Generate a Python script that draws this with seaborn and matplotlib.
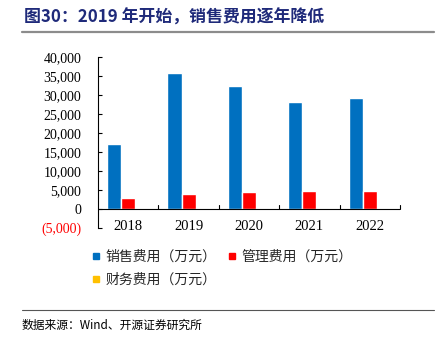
import matplotlib
matplotlib.use("Agg")
import matplotlib.pyplot as plt
import seaborn as sns
import pandas as pd
import numpy as np
from matplotlib.lines import Line2D
from matplotlib.ticker import FixedLocator, FuncFormatter

years = ["2018", "2019", "2020", "2021", "2022"]
series = ["销售费用（万元）", "管理费用（万元）", "财务费用（万元）"]
selling = [17000, 35700, 32400, 28150, 29200]
admin = [2900, 3950, 4500, 4650, 4750]
finance = [0, 0, 0, 0, 0]
colors = ["#0070C0", "#FF0000", "#FFC000"]
yticks = [-5000, 0, 5000, 10000, 15000, 20000, 25000, 30000, 35000, 40000]

df = pd.DataFrame({
    "year": years * 3,
    "series": [series[0]] * 5 + [series[1]] * 5 + [series[2]] * 5,
    "value": selling + admin + finance,
})

sns.set_theme(style="white")
cjk = ["Noto Sans CJK SC", "DejaVu Sans"]
serif = ["Liberation Serif", "DejaVu Serif"]
plt.rcParams["font.family"] = cjk

fig = plt.figure(figsize=(4.4, 3.43), dpi=100)
ax = fig.add_axes([98 / 440, 1 - 228 / 343, 302 / 440, 171 / 343])

sns.barplot(data=df, x="year", y="value", hue="series", palette=colors,
            width=0.7, gap=0, dodge=True, ax=ax, legend=False, saturation=1)

ax.set_ylim(-5000, 40000)
ax.set_xlim(-0.5, 4.5)
ax.set_xlabel("")
ax.set_ylabel("")

for s in ["top", "right", "bottom"]:
    ax.spines[s].set_visible(False)
ax.spines["left"].set_color("black")
ax.spines["left"].set_linewidth(0.8)

ax.set_yticks(yticks)
ax.yaxis.set_major_formatter(FuncFormatter(
    lambda v, p: f"({abs(int(v)):,})" if v < 0 else f"{int(v):,}"))
ax.tick_params(axis="y", direction="in", length=3, width=0.8, color="black",
               labelsize=10, pad=12, left=True)
for lbl in ax.get_yticklabels():
    lbl.set_fontfamily(serif)
    if lbl.get_text().startswith("("):
        lbl.set_color("red")
    else:
        lbl.set_color("black")

# x axis at zero
ax.axhline(0, color="black", lw=0.8, zorder=5)
ax.tick_params(axis="x", which="major", length=0, labelsize=10.5, pad=-6,
               labelcolor="black")
for lbl in ax.get_xticklabels():
    lbl.set_fontfamily(serif)
for xb in [0.5, 1.5, 2.5, 3.5, 4.5]:
    ax.plot([xb, xb], [0, 1100], color="black", lw=0.8, zorder=5, clip_on=False)
ax.grid(False)

handles = [Line2D([], [], marker="s", linestyle="none", markersize=5,
                  markerfacecolor=c, markeredgecolor=c) for c in colors]
order = [0, 2, 1]
fig.legend([handles[i] for i in order], [series[i] for i in order],
           loc="upper left", bbox_to_anchor=(92 / 440, 1 - 250 / 343),
           ncol=2, frameon=False, fontsize=10, handlelength=0.6, handletextpad=0.4,
           columnspacing=0.8, labelspacing=0.65, borderaxespad=0, borderpad=0)

fig.text(24 / 440, 1 - 18 / 343, "图30：2019 年开始，销售费用逐年降低", fontsize=12.2,
         fontweight="bold", color="#1F2A7A", va="center", ha="left")
fig.add_artist(Line2D([22 / 440, 434 / 440], [1 - 32 / 343, 1 - 32 / 343],
                      color="#8C8C8C", lw=1.6))
fig.add_artist(Line2D([22 / 440, 434 / 440], [1 - 310 / 343, 1 - 310 / 343],
                      color="#555555", lw=0.8))
fig.text(22 / 440, 1 - 325 / 343, "数据来源：Wind、开源证券研究所", fontsize=8.5,
         color="black", va="center", ha="left")

fig.savefig("out.png", dpi=100)
